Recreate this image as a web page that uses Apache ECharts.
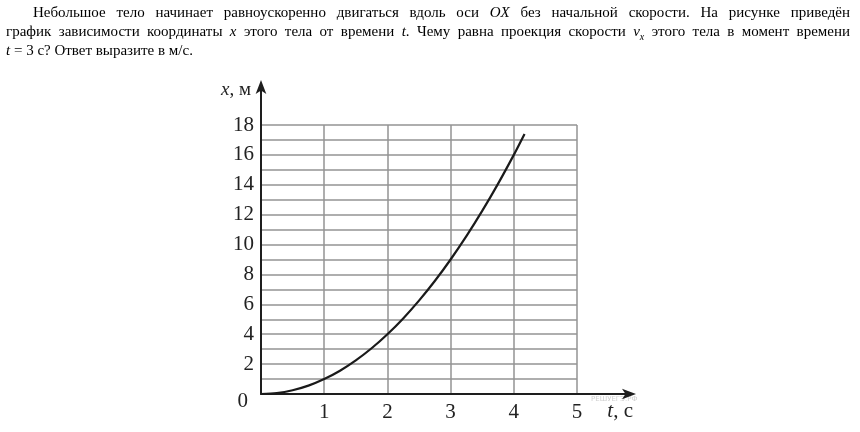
<!DOCTYPE html>
<html>
<head>
<meta charset="utf-8">
<script src="https://cdn.jsdelivr.net/npm/echarts@6/dist/echarts.min.js"></script>
<style>
  html, body { margin: 0; padding: 0; background: #fff; }
  #wrap { position: relative; width: 860px; height: 432px; overflow: hidden; }
  #chart { position: absolute; left: 0; top: 0; width: 860px; height: 432px; }
  #para { position: absolute; left: 6px; top: 3px; width: 844px; z-index: 2;
          font-family: "Liberation Serif", "Times New Roman", serif; font-size: 15px;
          line-height: 19px; color: #000; }
  #para .j { text-align: justify; text-align-last: justify; }
  #para .j1 { text-indent: 27px; }
  #para sub { font-size: 10px; line-height: 0; }
</style>
</head>
<body>
<div id="wrap">
  <div id="chart"></div>
  <div id="para">
    <div class="j j1">Небольшое тело начинает равноускоренно двигаться вдоль оси <i>OX</i> без начальной скорости. На рисунке приведён</div>
    <div class="j">график зависимости координаты <i>x</i> этого тела от времени <i>t</i>. Чему равна проекция скорости <i>v<sub>x</sub></i> этого тела в момент времени</div>
    <div><i>t</i> = 3 с? Ответ выразите в м/с.</div>
  </div>
</div>
<script>
// Data
const timeValues = [0, 0.25, 0.5, 0.75, 1, 1.25, 1.5, 1.75, 2, 2.25, 2.5, 2.75, 3, 3.25, 3.5, 3.75, 4, 4.17];
const coordValues = [0, 0.06, 0.25, 0.56, 1, 1.56, 2.25, 3.06, 4, 5.06, 6.25, 7.56, 9, 10.56, 12.25, 14.06, 16, 17.4];
const xTicks = [0, 1, 2, 3, 4, 5];
const yTickStep = 1;
const yLabelStep = 2;
const xAxisName = 't';
const xAxisUnit = ', с';
const yAxisName = 'x';
const yAxisUnit = ', м';
const watermark = 'РЕШУЕГЭ.РФ';

const seriesData = timeValues.map((t, i) => [t, coordValues[i]]);
const serif = '"Liberation Serif", "Times New Roman", serif';
const gridColor = '#939393';
const axisColor = '#1e1e1e';

const chart = echarts.init(document.getElementById('chart'), null, { renderer: 'canvas' });
chart.setOption({
  backgroundColor: '#fff',
  animation: false,
  grid: [
    { left: 261, right: 283, top: 125, bottom: 38, containLabel: false },
    { left: 261, right: 228, top: 84, bottom: 38, containLabel: false }
  ],
  xAxis: [
    {
      type: 'value', gridIndex: 0, min: xTicks[0], max: xTicks[xTicks.length - 1], interval: 1,
      axisLine: { show: false }, axisTick: { show: false },
      splitLine: { show: true, lineStyle: { color: gridColor, width: 1.5 } },
      axisLabel: {
        show: true, margin: 8, color: '#222', fontFamily: serif, fontSize: 21,
        formatter: v => (v === 0 ? '' : String(v))
      }
    },
    {
      type: 'value', gridIndex: 1, min: 0, max: 1,
      axisLine: { show: true, symbol: ['none', 'arrow'], symbolSize: [8, 14], symbolOffset: [0, 4],
                  lineStyle: { color: axisColor, width: 2 } },
      axisTick: { show: false }, axisLabel: { show: false }, splitLine: { show: false },
      name: '{i|' + xAxisName + '}{n|' + xAxisUnit + '}',
      nameLocation: 'end', nameGap: 1,
      nameTextStyle: {
        align: 'right', verticalAlign: 'middle', padding: [34, 0, 0, 0],
        rich: {
          i: { fontFamily: serif, fontStyle: 'italic', fontSize: 21, color: '#222' },
          n: { fontFamily: serif, fontSize: 21, color: '#222' }
        }
      }
    }
  ],
  yAxis: [
    {
      type: 'value', gridIndex: 0, min: 0, max: 18, interval: yTickStep,
      axisLine: { show: false }, axisTick: { show: false },
      splitLine: { show: true, lineStyle: { color: gridColor, width: 1.5 } },
      axisLabel: {
        show: true, margin: 7, color: '#222', fontFamily: serif, fontSize: 21,
        formatter: v => (v % yLabelStep === 0 ? (v === 0 ? '{z|0}' : String(v)) : ''),
        rich: { z: { fontFamily: serif, fontSize: 21, color: '#222', padding: [14, 6, 0, 0] } }
      }
    },
    {
      type: 'value', gridIndex: 1, min: 0, max: 1,
      axisLine: { show: true, symbol: ['none', 'arrow'], symbolSize: [8, 14], symbolOffset: [0, 4],
                  lineStyle: { color: axisColor, width: 2 } },
      axisTick: { show: false }, axisLabel: { show: false }, splitLine: { show: false },
      name: '{i|' + yAxisName + '}{n|' + yAxisUnit + '}',
      nameLocation: 'end', nameGap: -6,
      nameTextStyle: {
        align: 'right', verticalAlign: 'middle', padding: [0, 10, 0, 0],
        rich: {
          i: { fontFamily: serif, fontStyle: 'italic', fontSize: 19, color: '#222' },
          n: { fontFamily: serif, fontSize: 19, color: '#222' }
        }
      }
    }
  ],
  graphic: [
    { type: 'text', left: 591, top: 396,
      style: { text: watermark, fontSize: 7, fontFamily: 'DejaVu Sans', fill: '#cfcfcf' } }
  ],
  series: [
    {
      type: 'line', xAxisIndex: 0, yAxisIndex: 0, data: seriesData,
      smooth: 0.3, showSymbol: false, clip: false,
      lineStyle: { color: '#1a1a1a', width: 2.2 }
    }
  ]
});
</script>
</body>
</html>
